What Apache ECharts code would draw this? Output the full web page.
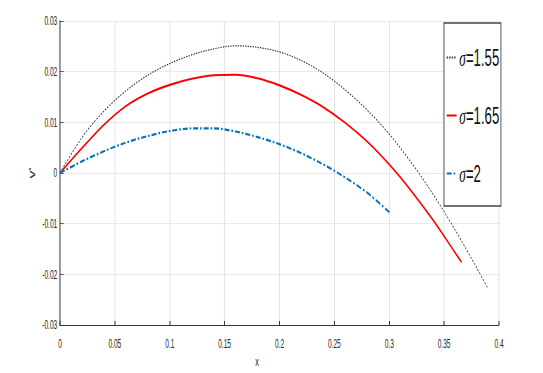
<!DOCTYPE html>
<html>
<head>
<meta charset="utf-8">
<script src="https://cdn.jsdelivr.net/npm/echarts@6/dist/echarts.min.js"></script>
<style>
html,body{margin:0;padding:0;background:#fff;overflow:hidden;width:543px;height:373px;}
#c{width:987px;height:373px;transform:scaleX(0.55015);transform-origin:0 0;}
</style>
</head>
<body>
<div id="c"></div>
<script>
// Data
var seriesNames = ['σ=1.55', 'σ=1.65', 'σ=2'];

var xBlack = [0, 0.02, 0.04, 0.06, 0.08, 0.10, 0.12, 0.14, 0.16, 0.18, 0.20, 0.22, 0.24, 0.26, 0.28, 0.30, 0.32, 0.34, 0.36, 0.38, 0.39];
var yBlack = [0, 0.0070, 0.0122, 0.0162, 0.0193, 0.0216, 0.0233, 0.0245, 0.0251, 0.0248, 0.0239, 0.0222, 0.0197, 0.0164, 0.0124, 0.0077, 0.0021, -0.0042, -0.0112, -0.0188, -0.0228];

var xRed = [0, 0.02, 0.04, 0.06, 0.08, 0.10, 0.12, 0.14, 0.16, 0.18, 0.20, 0.22, 0.24, 0.26, 0.28, 0.30, 0.32, 0.34, 0.36, 0.366];
var yRed = [0, 0.0049, 0.0095, 0.0132, 0.0157, 0.0174, 0.0186, 0.0193, 0.0194, 0.0187, 0.0173, 0.0154, 0.0130, 0.0099, 0.0062, 0.0017, -0.0035, -0.0093, -0.0157, -0.0176];

var xBlue = [0, 0.02, 0.04, 0.06, 0.08, 0.10, 0.12, 0.14, 0.16, 0.18, 0.20, 0.22, 0.24, 0.26, 0.28, 0.30, 0.301];
var yBlue = [0, 0.0023, 0.0043, 0.0060, 0.0073, 0.0083, 0.0088, 0.0088, 0.0082, 0.0071, 0.0057, 0.0039, 0.0017, -0.0009, -0.0039, -0.0077, -0.0079];

var xAxisName = 'x';
var yAxisName = "v'";

function pairs(xs, ys) {
  return xs.map(function (x, i) { return [x, ys[i]]; });
}

var FONT = '"Liberation Sans", Arial, sans-serif';
var chart = echarts.init(document.getElementById('c'), null, {renderer: 'svg', width: 987, height: 373});
chart.setOption({
  animation: false,
  backgroundColor: '#fff',
  grid: {left: 109, right: 80, top: 21, bottom: 43, containLabel: false},
  xAxis: {
    type: 'value', min: 0, max: 0.4, interval: 0.05,
    name: xAxisName, nameLocation: 'middle', nameGap: 13,
    nameTextStyle: {fontFamily: FONT, fontSize: 13, color: '#262626', padding: [0, 82, 0, 0]},
    axisLine: {show: true, onZero: false, lineStyle: {color: '#333', width: 1.2}},
    axisTick: {show: true, inside: true, length: 4, lineStyle: {color: '#333', width: 1.8}},
    axisLabel: {fontFamily: FONT, fontSize: 12, color: '#262626', margin: 13,
      formatter: function (v) { return String(+v.toFixed(2)); }},
    splitLine: {show: true, lineStyle: {color: '#e4e4e4', width: 1.8}}
  },
  yAxis: {
    type: 'value', min: -0.03, max: 0.03, interval: 0.01,
    name: yAxisName, nameLocation: 'middle', nameGap: 33, nameRotate: 90,
    nameTextStyle: {fontFamily: FONT, fontSize: 16, color: '#262626'},
    axisLine: {show: true, onZero: false, lineStyle: {color: '#444', width: 1.8}},
    axisTick: {show: true, inside: true, length: 7, lineStyle: {color: '#333', width: 1}},
    axisLabel: {fontFamily: FONT, fontSize: 12, color: '#262626', margin: 5,
      formatter: function (v) { return String(+v.toFixed(2)); }},
    splitLine: {show: true, lineStyle: {color: '#e4e4e4', width: 1}}
  },
  legend: {
    orient: 'vertical', left: 807, top: 23,
    padding: [22, 3, 20, 4],
    itemGap: 33, itemWidth: 18, itemHeight: 14,
    backgroundColor: '#fff', borderColor: '#444', borderWidth: 1.6, borderRadius: 0,
    itemStyle: {opacity: 0},
    textStyle: {fontFamily: FONT, fontSize: 24, lineHeight: 25, color: '#111',
      rich: {i: {fontFamily: '"Liberation Serif", serif', fontStyle: 'italic', fontSize: 24, lineHeight: 25, color: '#111'}}},
    formatter: function (name) { return '{i|σ}' + name.slice(1); },
    data: seriesNames
  },
  series: [
    {name: seriesNames[0], type: 'line', smooth: 0.33, symbol: 'none',
     lineStyle: {color: '#333', width: 1.2, type: [2.5, 2]}, itemStyle: {color: '#333'},
     data: pairs(xBlack, yBlack)},
    {name: seriesNames[1], type: 'line', smooth: 0.33, symbol: 'none',
     lineStyle: {color: '#ff0000', width: 2.1, type: 'solid'}, itemStyle: {color: '#ff0000'},
     data: pairs(xRed, yRed)},
    {name: seriesNames[2], type: 'line', smooth: 0.33, symbol: 'none',
     lineStyle: {color: '#0072BD', width: 2.2, type: [9, 3.5, 3, 3.5]}, itemStyle: {color: '#0072BD'},
     data: pairs(xBlue, yBlue)}
  ]
});
</script>
</body>
</html>
